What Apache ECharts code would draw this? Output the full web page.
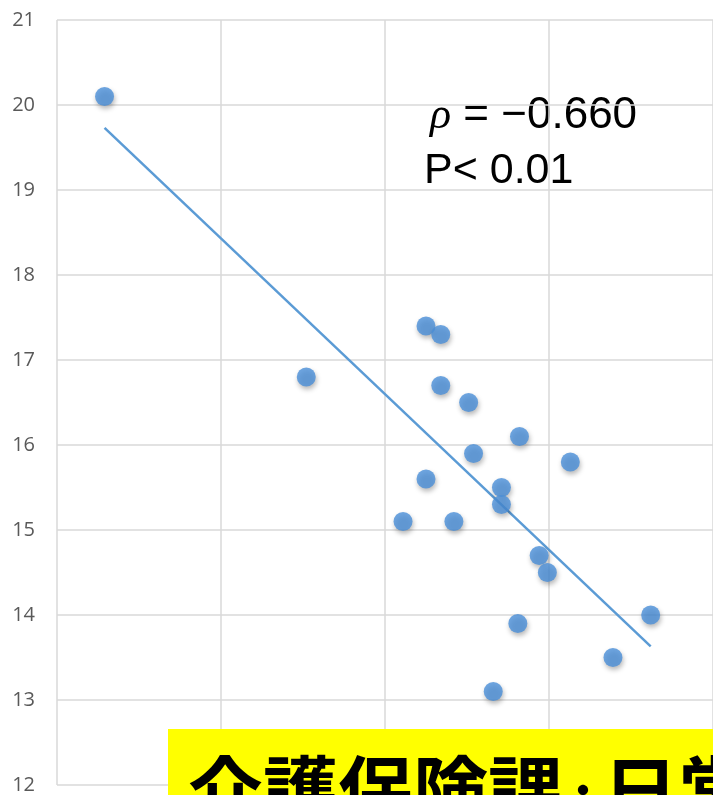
<!DOCTYPE html>
<html>
<head>
<meta charset="utf-8">
<script src="https://cdn.jsdelivr.net/npm/echarts@6/dist/echarts.min.js"></script>
<style>html,body{margin:0;padding:0;background:#fff;}#c{width:713px;height:795px;}</style>
</head>
<body>
<div id="c"></div>
<script>
const xValues = [0.29, 1.52, 2.25, 2.34, 2.34, 2.51, 2.82, 2.54, 3.13, 2.25, 2.71, 2.71, 2.11, 2.42, 2.94, 2.99, 3.62, 3.39, 2.81, 2.66];
const yValues = [20.1, 16.8, 17.4, 17.3, 16.7, 16.5, 16.1, 15.9, 15.8, 15.6, 15.5, 15.3, 15.1, 15.1, 14.7, 14.5, 14.0, 13.5, 13.9, 13.1];
const trendX = [0.29, 3.62];
const trendY = [19.73, 13.63];
const yTicks = [12, 13, 14, 15, 16, 17, 18, 19, 20, 21];
const statText1 = '{i|ρ} = −0.660';
const statText2 = 'P< 0.01';
const bannerText = '{b|介護保険課}{s|・}{b|日常生活圏域ニーズ調査}';

const chart = echarts.init(document.getElementById('c'));
chart.setOption({
  animation: false,
  grid: { left: 57, top: 20, width: 657, height: 766 },
  xAxis: {
    type: 'value', min: 0, max: 4, interval: 1,
    axisLine: { show: false }, axisTick: { show: false }, axisLabel: { show: false },
    splitLine: { show: true, lineStyle: { color: '#d9d9d9', width: 1.5 } }
  },
  yAxis: {
    type: 'value', min: yTicks[0], max: yTicks[yTicks.length - 1], interval: 1,
    axisLine: { show: false }, axisTick: { show: false },
    axisLabel: { color: '#595959', fontSize: 20, fontFamily: 'Open Sans', margin: 22 },
    splitLine: { show: true, lineStyle: { color: '#d9d9d9', width: 1.5 } }
  },
  series: [
    {
      type: 'line',
      data: trendX.map((x, i) => [x, trendY[i]]),
      symbol: 'none',
      lineStyle: { color: '#5b9bd5', width: 2.5 },
      z: 2
    },
    {
      type: 'scatter',
      data: xValues.map((x, i) => [x, yValues[i]]),
      symbolSize: 19,
      itemStyle: {
        color: '#4a8fd8',
        shadowBlur: 5, shadowOffsetX: 1, shadowOffsetY: 3, shadowColor: 'rgba(0,0,0,0.35)'
      },
      z: 3
    }
  ],
  graphic: [
    {
      type: 'text', left: 430, top: 94,
      style: {
        text: statText1, fontSize: 44, fontFamily: 'Liberation Sans', fill: '#000',
        rich: { i: { fontStyle: 'italic', fontSize: 44, fontFamily: 'Liberation Serif' } }
      }
    },
    {
      type: 'text', left: 424, top: 150,
      style: { text: statText2, fontSize: 43, fontFamily: 'Liberation Sans', fill: '#000' }
    },
    {
      type: 'rect', shape: { x: 168, y: 729, width: 560, height: 80 },
      style: { fill: '#ffff00' }, z: 10
    },
    {
      type: 'text', x: 188, y: 790, z: 11,
      style: {
        text: bannerText, fill: '#000', verticalAlign: 'middle',
        rich: {
          b: { fontSize: 75, fontWeight: 'bold', fontFamily: 'Noto Sans CJK JP', fill: '#000', verticalAlign: 'middle' },
          s: { fontSize: 40, fontWeight: 'bold', fontFamily: 'Noto Sans CJK JP', fill: '#000', verticalAlign: 'middle' }
        }
      }
    }
  ]
});
</script>
</body>
</html>
